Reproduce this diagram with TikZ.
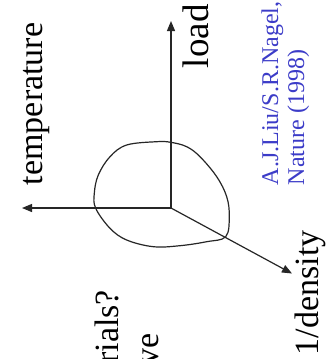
\documentclass[tikz,border=0pt]{standalone}
\usepackage{fontspec}
\setmainfont{Liberation Serif}
\usetikzlibrary{arrows.meta}
\definecolor{citeblue}{RGB}{60,60,200}
\begin{document}
\begin{tikzpicture}[x=1pt,y=-1pt,
  axis/.style={line width=1.2pt, draw=black!85, -{Triangle[length=10pt,width=8pt]}},
  blob/.style={line width=1.2pt, draw=black!85},
  rlabel/.style={rotate=90, inner sep=0pt, outer sep=0pt, font=\fontsize{34}{40}\selectfont},
  citelabel/.style={rotate=90, inner sep=0pt, outer sep=0pt, text=citeblue, font=\fontsize{24}{28}\selectfont}]
\useasboundingbox (0,0) rectangle (325,359);
\fill[white] (0,0) rectangle (325,359);
\coordinate (O) at (171,208);
\coordinate (T) at (22,208);
\coordinate (L) at (171,21);
\coordinate (D) at (292,273.5);
\draw[axis] (O) -- (T);
\draw[axis] (O) -- (L);
\draw[axis] (O) -- (D);
\draw[blob] plot[smooth cycle, tension=0.6] coordinates {
  (170.7,142.3) (156.7,141.7) (126.7,145) (110,156.7) (98.3,175) (94.3,193.3) (95.7,208.3)
  (110,228.3) (126.7,240) (153.3,246.7) (180,245.7) (206.7,241.7) (225.7,236.7)
  (229.3,216.7) (226.7,196.7) (216.7,176.7) (200,156.7) (186.7,146.7)};
\node[rlabel, anchor=base west] (temp) at (42,185) {temperature};
\node[rlabel, anchor=base west, font=\fontsize{37}{42}\selectfont] (load) at (208,68) {load};
\node[rlabel, anchor=base west] (dens) at (318,355) {1/density};
\node[rlabel, anchor=base east] (rials) at (118,290) {rials?};
\node[rlabel, anchor=base east] (ve) at (158,333) {ve};
\node[citelabel, anchor=base west] (cite1) at (278,185) {A.J.Liu/S.R.Nagel,};
\node[citelabel, anchor=base west] (cite2) at (304,185) {Nature (1998)};
\end{tikzpicture}
\end{document}
